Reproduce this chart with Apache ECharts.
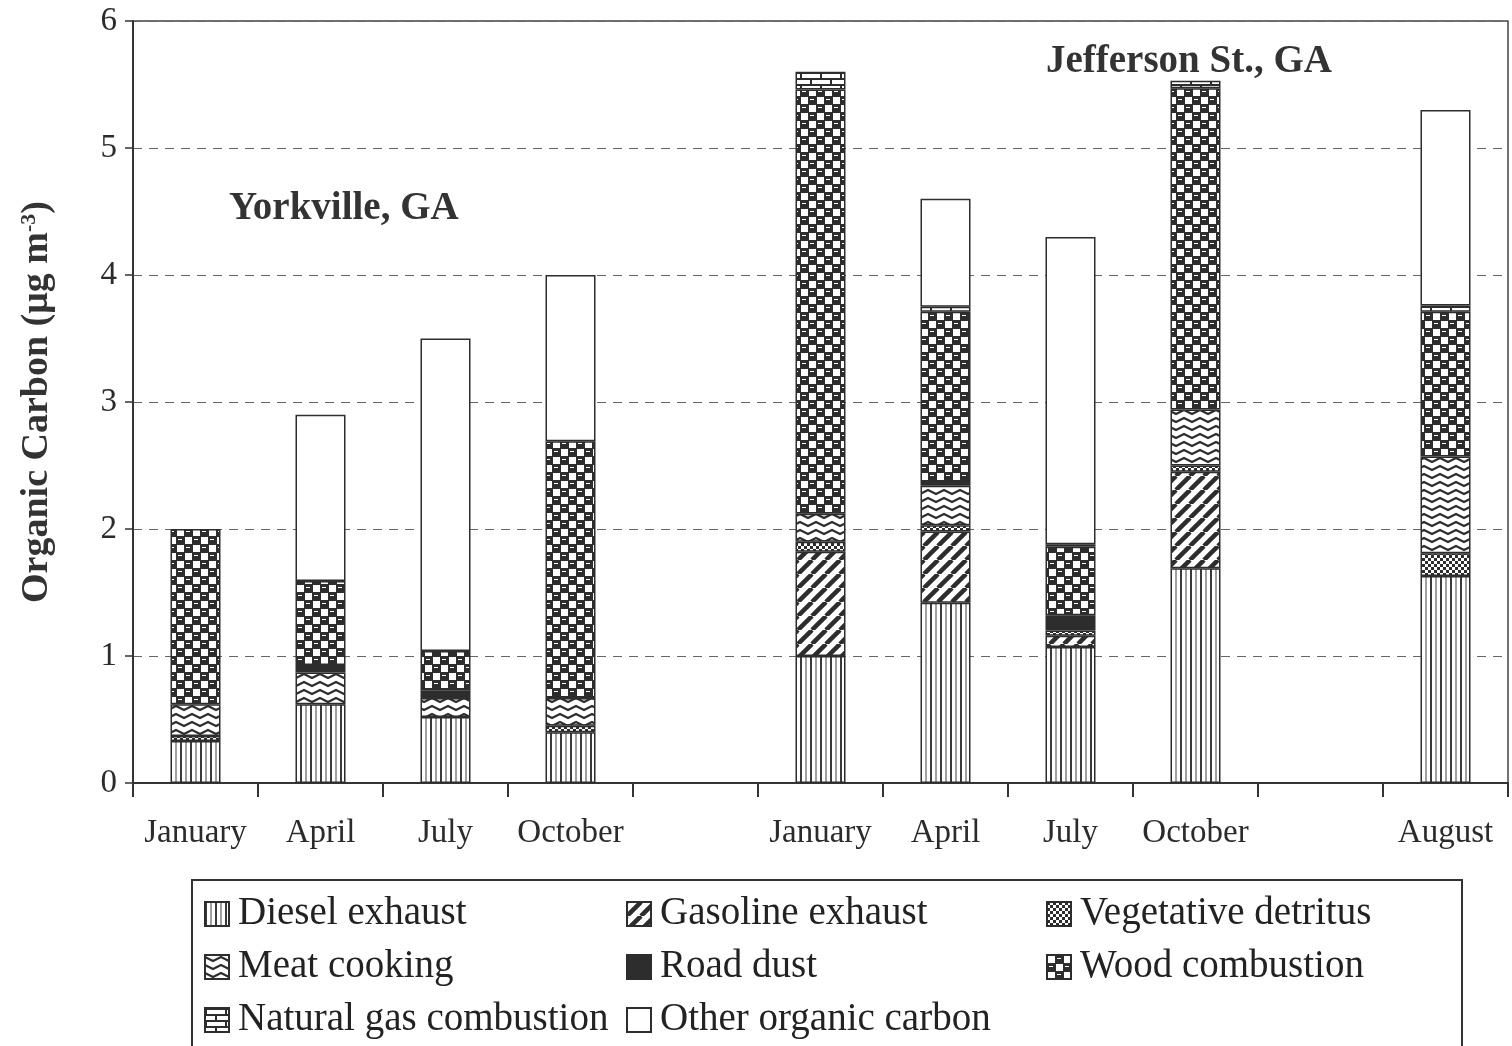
<!DOCTYPE html>
<html>
<head>
<meta charset="utf-8">
<script src="https://cdn.jsdelivr.net/npm/echarts@6/dist/echarts.min.js"></script>
<style>
html,body{margin:0;padding:0;background:#fff;}
#chart{width:1512px;height:1046px;}
</style>
</head>
<body>
<div id="chart"></div>
<script>
// ---- data ----
const categories = ['January','April','July','October','','January','April','July','October','','August'];
const yTicks = [0,1,2,3,4,5,6];
const seriesNames = ['Diesel exhaust','Gasoline exhaust','Vegetative detritus','Meat cooking','Road dust','Wood combustion','Natural gas combustion','Other organic carbon'];
const diesel   = [0.33, 0.62, 0.52, 0.40, null, 1.00, 1.42, 1.07, 1.69, null, 1.63];
const gasoline = [null, null, null, null, null, 0.82, 0.56, 0.09, 0.76, null, null];
const veg      = [0.04, null, null, 0.05, null, 0.08, 0.05, 0.04, 0.05, null, 0.18];
const meat     = [0.25, 0.25, 0.15, 0.22, null, 0.22, 0.31, null, 0.44, null, 0.76];
const road     = [null, 0.06, 0.06, null, null, null, 0.03, 0.12, null, null, null];
const wood     = [1.38, 0.66, 0.31, 2.02, null, 3.34, 1.34, 0.54, 2.53, null, 1.14];
const natgas   = [null, null, null, null, null, 0.14, 0.04, 0.02, 0.06, null, 0.05];
const other    = [null, 1.31, 2.46, 1.31, null, null, 0.85, 2.42, null, null, 1.54];
const values = [diesel, gasoline, veg, meat, road, wood, natgas, other];

// ---- patterns ----
const DARK = '#2d2d2d';
function pat(w, h, draw, bg) {
  const c = document.createElement('canvas');
  c.width = w; c.height = h;
  const g = c.getContext('2d');
  g.fillStyle = bg || '#fff';
  g.fillRect(0, 0, w, h);
  draw(g, w, h);
  return { image: c, repeat: 'repeat' };
}
const fills = [
  // diesel: vertical stripes
  pat(10, 4, g => { g.fillStyle = '#3a3a3a'; g.fillRect(0,0,2,4); g.fillStyle = '#a0a0a0'; g.fillRect(5,0,2,4); }),
  // gasoline: diagonal
  pat(14, 14, (g,w,h) => { g.strokeStyle = DARK; g.lineWidth = 4.5;
    for (let k = -w; k <= w; k += w) { g.beginPath(); g.moveTo(k, h); g.lineTo(k + w, 0); g.stroke(); } }),
  // vegetative detritus: small checker
  pat(6, 6, g => { g.fillStyle = DARK; g.fillRect(0,0,3,3); g.fillRect(3,3,3,3); }),
  // meat cooking: zigzag waves
  pat(16, 8, g => { g.strokeStyle = DARK; g.lineWidth = 2.2; g.lineJoin = 'miter';
    g.beginPath(); g.moveTo(-8,6); g.lineTo(0,2); g.lineTo(8,6); g.lineTo(16,2); g.lineTo(24,6); g.stroke(); }),
  // road dust: solid
  DARK,
  // wood combustion: dark with white squares
  pat(16, 16, g => { g.fillStyle = '#fff';
    g.fillRect(1,1,7,7); g.fillRect(9,9,7,7);
    g.fillRect(10,3,4,1); g.fillRect(2,11,4,1); }, DARK),
  // natural gas: bricks
  pat(20, 12, g => { g.fillStyle = DARK;
    g.fillRect(0,0,20,2); g.fillRect(0,6,20,2);
    g.fillRect(0,0,2,6); g.fillRect(10,6,2,6); }),
  // other: white
  '#ffffff'
];

const FONT = "'Liberation Serif','Times New Roman',serif";

const series = seriesNames.map((name, i) => ({
  name: name,
  type: 'bar',
  stack: 'oc',
  barWidth: 50,
  data: values[i],
  itemStyle: { color: fills[i], borderColor: DARK, borderWidth: 1.5 },
  emphasis: { disabled: true }
}));

const legendCols = [
  { names: [seriesNames[0], seriesNames[3], seriesNames[6]], left: 204 },
  { names: [seriesNames[1], seriesNames[4], seriesNames[7]], left: 626 },
  { names: [seriesNames[2], seriesNames[5]], left: 1046 }
];

const chart = echarts.init(document.getElementById('chart'));
chart.setOption({
  animation: false,
  backgroundColor: '#fff',
  grid: { left: 133, right: 4, top: 21, bottom: 263, show: true, borderColor: '#444', borderWidth: 1.5 },
  title: [
    { text: 'Yorkville, GA', left: 224, top: 184, textStyle: { fontFamily: FONT, fontSize: 39, fontWeight: 'bold', color: '#333' } },
    { text: 'Jefferson St., GA', left: 1041, top: 37, textStyle: { fontFamily: FONT, fontSize: 39, fontWeight: 'bold', color: '#333' } }
  ],
  legend: legendCols.map(c => ({
    data: c.names,
    orient: 'vertical',
    left: c.left,
    top: 893,
    padding: 0,
    icon: 'rect',
    itemWidth: 24,
    itemHeight: 24,
    itemGap: 11,
    selectedMode: false,
    textStyle: { fontFamily: FONT, fontSize: 39, color: '#222', lineHeight: 42, padding: [0, 0, 0, 4] }
  })),
  graphic: [{
    type: 'rect',
    shape: { x: 192, y: 880, width: 1270, height: 200 },
    style: { fill: 'none', stroke: '#333', lineWidth: 2 },
    silent: true
  }],
  xAxis: {
    type: 'category',
    data: categories.map((c, i) => i),
    axisLine: { lineStyle: { color: '#333', width: 2 } },
    axisTick: { show: true, length: 14, lineStyle: { color: '#333', width: 2 } },
    axisLabel: {
      interval: 0,
      margin: 34,
      fontFamily: FONT, fontSize: 33, color: '#2b2b2b',
      formatter: (v, i) => categories[i]
    },
    splitLine: { show: false }
  },
  yAxis: {
    type: 'value',
    min: yTicks[0], max: yTicks[yTicks.length - 1], interval: 1,
    name: 'Organic Carbon (μg m{sup|-3})',
    nameLocation: 'middle',
    nameGap: 77,
    nameRotate: 90,
    nameTextStyle: {
      fontFamily: FONT, fontSize: 38, fontWeight: 'bold', color: '#333',
      rich: { sup: { fontFamily: FONT, fontSize: 22, fontWeight: 'bold', color: '#333', verticalAlign: 'top', padding: [0, 0, 16, 0] } }
    },
    axisLine: { show: true, lineStyle: { color: '#333', width: 2 } },
    axisTick: { show: true, length: 8, lineStyle: { color: '#333', width: 1.5 } },
    axisLabel: { margin: 16, fontFamily: FONT, fontSize: 33, color: '#2b2b2b' },
    splitLine: { show: true, lineStyle: { color: '#666', width: 1.2, type: [9, 7] } }
  },
  series: series
});
</script>
</body>
</html>
